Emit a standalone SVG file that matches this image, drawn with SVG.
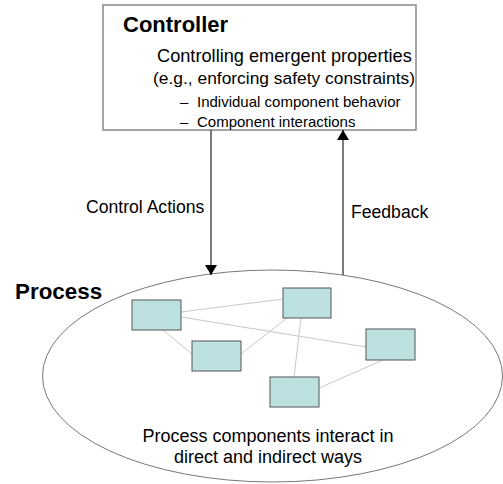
<svg xmlns="http://www.w3.org/2000/svg" width="503" height="484" viewBox="0 0 503 484">
<defs>
<marker id="arr" viewBox="0 0 10 12" refX="10" refY="6" markerWidth="10" markerHeight="12" markerUnits="userSpaceOnUse" orient="auto">
<path d="M0,0 L10,6 L0,12 Z" fill="#000"/>
</marker>
<style>
text{font-family:"Liberation Sans",Arial,sans-serif;fill:#000}
.b{font-weight:bold}
.comp{fill:#bde0e0;stroke:#555;stroke-width:1}
.link{stroke:#c8c8c8;stroke-width:1;fill:none}
.flow{stroke:#222;stroke-width:1.2;fill:none}
</style>
</defs>
<rect width="503" height="484" fill="#fff"/>
<g id="controller">
<rect x="103" y="5" width="313" height="125" fill="#fff" stroke="#888" stroke-width="1.5"/>
<text class="b" x="123" y="32" font-size="22">Controller</text>
<text x="157" y="62" font-size="18.2">Controlling emergent properties</text>
<text x="153" y="84" font-size="17.4">(e.g., enforcing safety constraints)</text>
<text x="180" y="107" font-size="15">–<tspan x="197">Individual component behavior</tspan></text>
<text x="180" y="127" font-size="15">–<tspan x="197">Component interactions</tspan></text>
</g>
<g id="process">
<ellipse cx="272.5" cy="376" rx="230" ry="106" fill="#fff" stroke="#777" stroke-width="1"/>
<text class="b" x="15" y="299" font-size="22.4">Process</text>
<text x="268" y="442" font-size="18" text-anchor="middle">Process components interact in</text>
<text x="268" y="463" font-size="18" text-anchor="middle">direct and indirect ways</text>
</g>
<g id="links">
<line class="link" x1="181" y1="312" x2="283" y2="299"/>
<line class="link" x1="181" y1="317" x2="366" y2="347"/>
<line class="link" x1="163" y1="330" x2="192" y2="354"/>
<line class="link" x1="287" y1="318" x2="241" y2="354"/>
<line class="link" x1="301" y1="318" x2="294" y2="377"/>
<line class="link" x1="383" y1="360" x2="319" y2="388"/>
</g>
<g id="c1"><rect class="comp" x="132" y="300" width="49" height="30"/></g>
<g id="c2"><rect class="comp" x="283" y="288" width="48" height="30"/></g>
<g id="c3"><rect class="comp" x="192" y="341" width="49" height="30"/></g>
<g id="c4"><rect class="comp" x="366" y="329" width="49" height="31"/></g>
<g id="c5"><rect class="comp" x="270" y="377" width="49" height="30"/></g>
<g id="connectors">
<line class="flow" x1="211" y1="130" x2="211" y2="275" marker-end="url(#arr)"/>
<line class="flow" x1="343" y1="275" x2="343" y2="130" marker-end="url(#arr)"/>
<text x="86" y="213" font-size="17.6">Control Actions</text>
<text x="351" y="218" font-size="17.6">Feedback</text>
</g>
</svg>
